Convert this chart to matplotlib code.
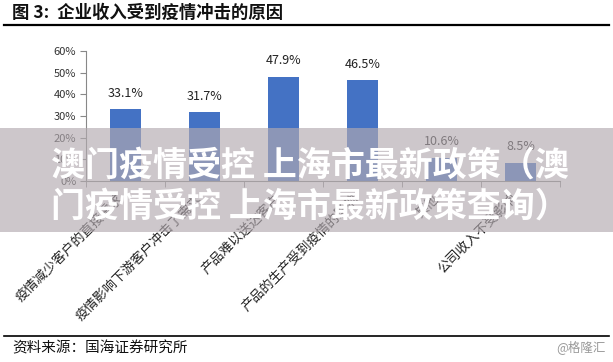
import matplotlib.pyplot as plt
from matplotlib.patches import Rectangle
from matplotlib.lines import Line2D

plt.rcParams['font.family'] = ['Noto Sans CJK SC', 'DejaVu Sans']

categories = ['疫情减少客户的直接需求', '疫情影响下游客户冲击了需求', '产品难以送达客户',
              '产品的生产受到疫情的影响', '其他', '公司收入不受影响']
values = [33.1, 31.7, 47.9, 46.5, 10.6, 8.5]
yticks = [0, 10, 20, 30, 40, 50, 60]

W, H = 613, 362
fig = plt.figure(figsize=(W / 100, H / 100), dpi=100)
ax = fig.add_axes([86 / W, 1 - 181 / H, (560 - 86) / W, (181 - 51) / H])

x = list(range(len(values)))
bars = ax.bar(x, values, width=0.4, color='#4472C4', zorder=2)
for xi, v in zip(x, values):
    ax.annotate('%.1f%%' % v, (xi, v), xytext=(0, 7), textcoords='offset points',
                ha='center', va='bottom', fontsize=9, color='#222222')

ax.set_xlim(-0.5, len(values) - 0.5)
ax.set_ylim(0, 60)
ax.set_yticks(yticks)
ax.set_yticklabels(['%d%%' % t for t in yticks], fontsize=8, color='#333333')
ax.set_xticks(x)
ax.set_xticklabels(categories, rotation=45, ha='right', fontsize=9.5, color='#222222')
ax.set_xticks([i - 0.5 for i in range(len(values) + 1)], minor=True)
ax.tick_params(axis='x', which='major', length=0, pad=8)
ax.tick_params(axis='x', which='minor', length=4, color='#888888')
ax.tick_params(axis='y', length=4, color='#888888', pad=3)
for s in ['top', 'right']:
    ax.spines[s].set_visible(False)
for s in ['left', 'bottom']:
    ax.spines[s].set_color('#888888')
    ax.spines[s].set_linewidth(0.8)

# title and rules
fig.text(12 / W, 1 - 13 / H, '图 3:  企业收入受到疫情冲击的原因', fontsize=12.5,
         fontweight='bold', va='center', ha='left', color='#111111')
fig.add_artist(Line2D([4 / W, 609 / W], [1 - 25 / H] * 2, color='black', lw=1.6))
fig.add_artist(Line2D([4 / W, 609 / W], [1 - 336 / H] * 2, color='black', lw=1.2))
fig.text(12 / W, 1 - 348 / H, '资料来源：国海证券研究所', fontsize=10.5,
         va='center', ha='left', color='#111111')
fig.text(606 / W, 1 - 347 / H, '@格隆汇', fontsize=9, va='center', ha='right', color='#9a9a9a')

# overlay banner
fig.add_artist(Rectangle((0, 1 - 232 / H), 1, 104 / H, transform=fig.transFigure,
                         facecolor=(179 / 255, 170 / 255, 176 / 255), alpha=0.65,
                         edgecolor='none', zorder=10))
fig.text(0.505, 1 - 165 / H, '澳门疫情受控 上海市最新政策（澳', fontsize=24.5, fontweight='bold',
         color='white', ha='center', va='center', zorder=11)
fig.text(0.505, 1 - 206 / H, '门疫情受控 上海市最新政策查询）', fontsize=24.5, fontweight='bold',
         color='white', ha='center', va='center', zorder=11)

fig.savefig('out.png', dpi=100, facecolor='white')
